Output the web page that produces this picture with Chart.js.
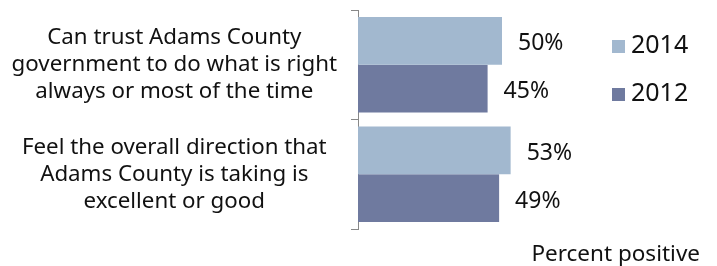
<!DOCTYPE html>
<html>
<head>
<meta charset="utf-8">
<script src="https://cdn.jsdelivr.net/npm/chart.js@4/dist/chart.umd.min.js"></script>
<style>
  html, body { margin: 0; padding: 0; background: #fff; }
  #wrap { width: 717px; height: 266px; }
</style>
</head>
<body>
<div id="wrap"><canvas id="chart" width="717" height="266"></canvas></div>
<script>
// data
const categories = [
  ["Can trust Adams County", "government to do what is right", "always or most of the time"],
  ["Feel the overall direction that", "Adams County is taking is", "excellent or good"]
];
const seriesNames = ["2014", "2012"];
const values2014 = [50, 53];
const values2012 = [45, 49];
const xAxisNote = "Percent positive";

const colors = ["#A2B8CF", "#6F7A9F"];
const fontFamily = "'Noto Sans', 'Open Sans', sans-serif";

// value labels, legend and axis note drawn on the canvas
const extras = {
  id: "extras",
  afterDatasetsDraw(chart) {
    const ctx = chart.ctx;
    ctx.save();
    ctx.fillStyle = "#111";
    ctx.font = "23px " + fontFamily;
    ctx.textAlign = "left";
    ctx.textBaseline = "middle";
    chart.data.datasets.forEach((ds, di) => {
      const meta = chart.getDatasetMeta(di);
      meta.data.forEach((bar, i) => {
        ctx.fillText(ds.data[i] + "%", bar.x + 16, bar.y + 3);
      });
    });

    // legend
    ctx.font = "25px " + fontFamily;
    chart.data.datasets.forEach((ds, di) => {
      const y = 46 + di * 48;
      ctx.fillStyle = ds.backgroundColor;
      ctx.fillRect(612, y - 6, 13, 13);
      ctx.fillStyle = "#111";
      ctx.fillText(ds.label, 631, y);
    });

    ctx.font = "22.5px " + fontFamily;
    ctx.textAlign = "right";
    ctx.textBaseline = "alphabetic";
    ctx.fillText(xAxisNote, 700, 261);
    ctx.restore();
  }
};

new Chart(document.getElementById("chart"), {
  type: "bar",
  data: {
    labels: categories,
    datasets: [
      { label: seriesNames[0], data: values2014, backgroundColor: colors[0] },
      { label: seriesNames[1], data: values2012, backgroundColor: colors[1] }
    ]
  },
  options: {
    indexAxis: "y",
    responsive: false,
    animation: false,
    devicePixelRatio: 1,
    layout: { padding: { left: 0, right: 71, top: 10, bottom: 37 } },
    datasets: { bar: { categoryPercentage: 0.87, barPercentage: 1, borderWidth: 0 } },
    plugins: { legend: { display: false }, tooltip: { enabled: false } },
    scales: {
      x: { display: false, min: 0, max: 100 },
      y: {
        afterFit: s => {
          s.width = 358;
          s.paddingTop = 0;
          s.paddingBottom = 0;
        },
        grid: { display: true, drawOnChartArea: false, drawTicks: true, tickLength: 7, color: "#888", offset: true },
        border: { display: true, color: "#888", width: 1 },
        ticks: {
          crossAlign: "center",
          padding: 14,
          color: "#111",
          font: { family: fontFamily, size: 22.3, lineHeight: 1.21 }
        }
      }
    }
  },
  plugins: [extras]
});
</script>
</body>
</html>
